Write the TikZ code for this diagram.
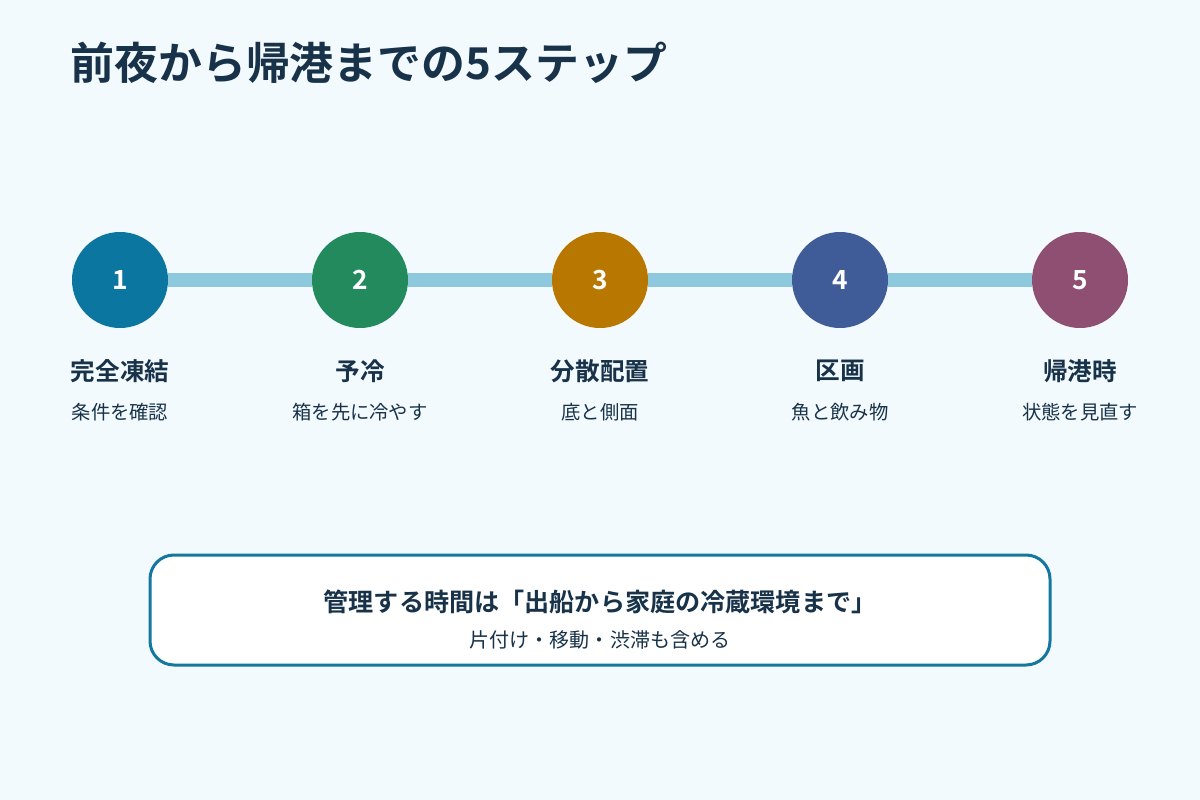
\documentclass[tikz,border=0pt]{standalone}
\usepackage{fontspec}
\setmainfont{Noto Sans CJK JP}
\newfontfamily\jpbold{Noto Sans CJK JP Bold}
\usetikzlibrary{positioning}
\definecolor{bgcol}{HTML}{F3FAFD}
\definecolor{ink}{HTML}{173249}
\definecolor{railcol}{HTML}{8EC8DC}
\definecolor{boxline}{HTML}{1377A0}
\definecolor{cA}{HTML}{0B76A0}
\definecolor{cB}{HTML}{228A5C}
\definecolor{cC}{HTML}{B87800}
\definecolor{cD}{HTML}{3F5B98}
\definecolor{cE}{HTML}{8E4F72}
\begin{document}
\begin{tikzpicture}[x=0.02cm, y=-0.02cm,
    stp/.style={circle, minimum size=96*0.02cm, inner sep=0pt,
      text=white, font=\jpbold\fontsize{15pt}{15pt}\selectfont},
    ttl/.style={text=ink, font=\jpbold\fontsize{14pt}{14pt}\selectfont},
    sub/.style={text=ink, font=\fontsize{11pt}{11pt}\selectfont},
    rail/.style={line width=14*0.02cm, draw=railcol}]
  % === Background and title ===
  \fill[bgcol] (0,0) rectangle (1200,800);
  \node[anchor=base west, text=ink, font=\jpbold\fontsize{25pt}{25pt}\selectfont,
    inner sep=0pt] (head) at (70,80) {前夜から帰港までの5ステップ};
  % === Steps ===
  \node[stp, fill=cA] (s1) at (120,280) {1};
  \node[stp, fill=cB] (s2) at (360,280) {2};
  \node[stp, fill=cC] (s3) at (600,280) {3};
  \node[stp, fill=cD] (s4) at (840,280) {4};
  \node[stp, fill=cE] (s5) at (1080,280) {5};
  % === Labels ===
  \node[ttl] (t1) at (120,371) {完全凍結};
  \node[ttl] (t2) at (360,371) {予冷};
  \node[ttl] (t3) at (600,371) {分散配置};
  \node[ttl] (t4) at (840,371) {区画};
  \node[ttl] (t5) at (1080,371) {帰港時};
  \node[sub] (u1) at (120,412) {条件を確認};
  \node[sub] (u2) at (360,412) {箱を先に冷やす};
  \node[sub] (u3) at (600,412) {底と側面};
  \node[sub] (u4) at (840,412) {魚と飲み物};
  \node[sub] (u5) at (1080,412) {状態を見直す};
  % === Summary box ===
  \draw[boxline, line width=3*0.02cm, fill=white, rounded corners=24*0.02cm]
    (150,555) rectangle (1050,665);
  \node[ttl, font=\jpbold\fontsize{14.3pt}{14.3pt}\selectfont] (note) at (600,602)
    {管理する時間は「出船から家庭の冷蔵環境まで」};
  \node[sub, font=\fontsize{11.4pt}{11.4pt}\selectfont] (notesub) at (600,640)
    {片付け・移動・渋滞も含める};
  % === Rail (drawn between circles) ===
  \draw[rail] (s1) -- (s2);
  \draw[rail] (s2) -- (s3);
  \draw[rail] (s3) -- (s4);
  \draw[rail] (s4) -- (s5);
\end{tikzpicture}
\end{document}
